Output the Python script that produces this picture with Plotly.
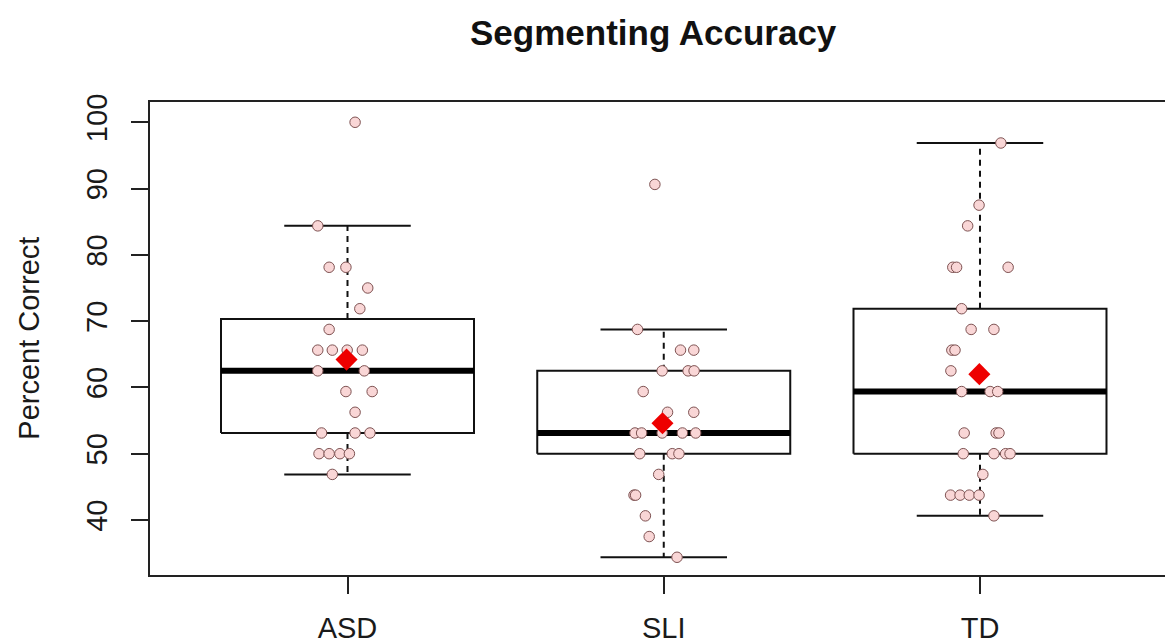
import plotly.graph_objects as go

# ---------------- data ----------------
categories = ["ASD", "SLI", "TD"]

asd_values = [100, 84.375, 78.125, 78.125, 75, 71.875, 68.75,
              65.625, 65.625, 65.625, 65.625, 62.5, 62.5, 59.375, 59.375,
              56.25, 53.125, 53.125, 53.125, 50, 50, 50, 50, 46.875]
asd_jitter = [0.024, -0.094, -0.058, -0.005, 0.064, 0.039, -0.058,
              -0.094, -0.048, -0.001, 0.047, -0.094, 0.053, -0.005, 0.078,
              0.024, -0.082, 0.024, 0.071, -0.090, -0.058, -0.024, 0.006, -0.048]

sli_values = [90.625, 68.75, 65.625, 65.625, 62.5, 62.5, 62.5, 59.375,
              56.25, 56.25, 53.125, 53.125, 53.125, 53.125, 53.125,
              50, 50, 50, 46.875, 43.75, 43.75, 40.625, 37.5, 34.375]
sli_jitter = [-0.028, -0.083, 0.053, 0.095, -0.005, 0.077, 0.096, -0.065,
              0.012, 0.095, -0.091, -0.070, -0.005, 0.059, 0.101,
              -0.076, 0.027, 0.048, -0.016, -0.094, -0.089, -0.058, -0.046, 0.042]

td_values = [96.875, 87.5, 84.375, 78.125, 78.125, 78.125, 71.875,
             68.75, 68.75, 65.625, 65.625, 62.5, 59.375, 59.375, 59.375,
             53.125, 53.125, 53.125, 50, 50, 50, 50, 46.875,
             43.75, 43.75, 43.75, 43.75, 40.625]
td_jitter = [0.066, -0.003, -0.039, -0.086, -0.074, 0.089, -0.058,
             -0.028, 0.044, -0.089, -0.079, -0.092, -0.058, 0.032, 0.056,
             -0.050, 0.051, 0.060, -0.053, 0.044, 0.081, 0.095, 0.009,
             -0.093, -0.063, -0.034, -0.003, 0.044]

# box statistics (lower whisker, Q1, median, Q3, upper whisker)
whisker_low = [46.875, 34.375, 40.625]
q1 = [53.125, 50.0, 50.0]
median = [62.5, 53.125, 59.375]
q3 = [70.3125, 62.5, 71.875]
whisker_high = [84.375, 68.75, 96.875]

# group means (red diamonds)
means = [64.2, 54.6, 62.0]
mean_jitter = [-0.003, -0.004, -0.002]

yticks = [40, 50, 60, 70, 80, 90, 100]

# ---------------- figure ----------------
FONT = "Liberation Sans, Arial, sans-serif"
BOX_HALF = 0.4
CAP_HALF = 0.2

fig = go.Figure()

box_x, box_y = [], []
med_x, med_y = [], []
wh_x, wh_y = [], []
cap_x, cap_y = [], []
for i in range(len(categories)):
    c = i + 1
    box_x += [c - BOX_HALF, c + BOX_HALF, c + BOX_HALF, c - BOX_HALF, c - BOX_HALF, None]
    box_y += [q1[i], q1[i], q3[i], q3[i], q1[i], None]
    med_x += [c - BOX_HALF, c + BOX_HALF, None]
    med_y += [median[i], median[i], None]
    wh_x += [c, c, None, c, c, None]
    wh_y += [q3[i], whisker_high[i], None, q1[i], whisker_low[i], None]
    cap_x += [c - CAP_HALF, c + CAP_HALF, None, c - CAP_HALF, c + CAP_HALF, None]
    cap_y += [whisker_high[i], whisker_high[i], None, whisker_low[i], whisker_low[i], None]

fig.add_trace(go.Scatter(x=wh_x, y=wh_y, mode="lines",
                         line=dict(color="#111111", width=2, dash="6px,5px"),
                         hoverinfo="skip", showlegend=False))
fig.add_trace(go.Scatter(x=cap_x, y=cap_y, mode="lines",
                         line=dict(color="#111111", width=2),
                         hoverinfo="skip", showlegend=False))
fig.add_trace(go.Scatter(x=box_x, y=box_y, mode="lines", fill="toself",
                         fillcolor="white", line=dict(color="#111111", width=2),
                         hoverinfo="skip", showlegend=False))
fig.add_trace(go.Scatter(x=med_x, y=med_y, mode="lines",
                         line=dict(color="black", width=6),
                         hoverinfo="skip", showlegend=False))

groups = [(asd_values, asd_jitter), (sli_values, sli_jitter), (td_values, td_jitter)]
for i, (vals, jit) in enumerate(groups):
    fig.add_trace(go.Scatter(
        x=[i + 1 + j for j in jit], y=vals, mode="markers",
        marker=dict(symbol="circle", size=10.5, color="#F9D6D6",
                    line=dict(color="#7E5252", width=1)),
        showlegend=False, name=categories[i]))

fig.add_trace(go.Scatter(
    x=[i + 1 + mean_jitter[i] for i in range(len(categories))], y=means,
    mode="markers",
    marker=dict(symbol="diamond", size=17, color="#EE0000",
                line=dict(color="#EE0000", width=0)),
    showlegend=False, name="mean"))

fig.update_layout(
    width=1165, height=643,
    margin=dict(l=150, r=0, t=102, b=68),
    paper_bgcolor="white", plot_bgcolor="white",
    font=dict(family=FONT, color="#1a1a1a", size=29),
    xaxis=dict(range=[0.3755, 3.585], tickmode="array",
               tickvals=[1, 2, 3], ticktext=categories,
               showgrid=False, zeroline=False,
               showline=True, mirror=True, linecolor="#222222", linewidth=2,
               ticks="outside", ticklen=17, tickwidth=1.5, tickcolor="#222222",
               ticklabelstandoff=9,
               tickfont=dict(size=29, family=FONT, color="#1a1a1a")),
    yaxis=dict(range=[31.70, 103.06], tickmode="array", tickvals=yticks,
               showgrid=False, zeroline=False,
               showline=True, mirror=False, linecolor="#222222", linewidth=2,
               ticks="outside", ticklen=17, tickwidth=1.5, tickcolor="#222222",
               tickangle=-90, ticklabelstandoff=12,
               tickfont=dict(size=29, family=FONT, color="#1a1a1a")),
    annotations=[
        dict(text="<b>Segmenting Accuracy</b>", xref="paper", yref="paper",
             x=0.4956, y=1.147, xanchor="center", yanchor="middle",
             showarrow=False, font=dict(size=35, family=FONT, color="#111111")),
        dict(text="Percent Correct", xref="paper", yref="paper",
             x=-0.12, y=0.5, xanchor="center", yanchor="middle",
             textangle=-90, showarrow=False,
             font=dict(size=29, family=FONT, color="#1a1a1a")),
    ],
)

fig.write_html("out.html", config={"displayModeBar": False},
               post_script="document.body.style.margin='0';")
